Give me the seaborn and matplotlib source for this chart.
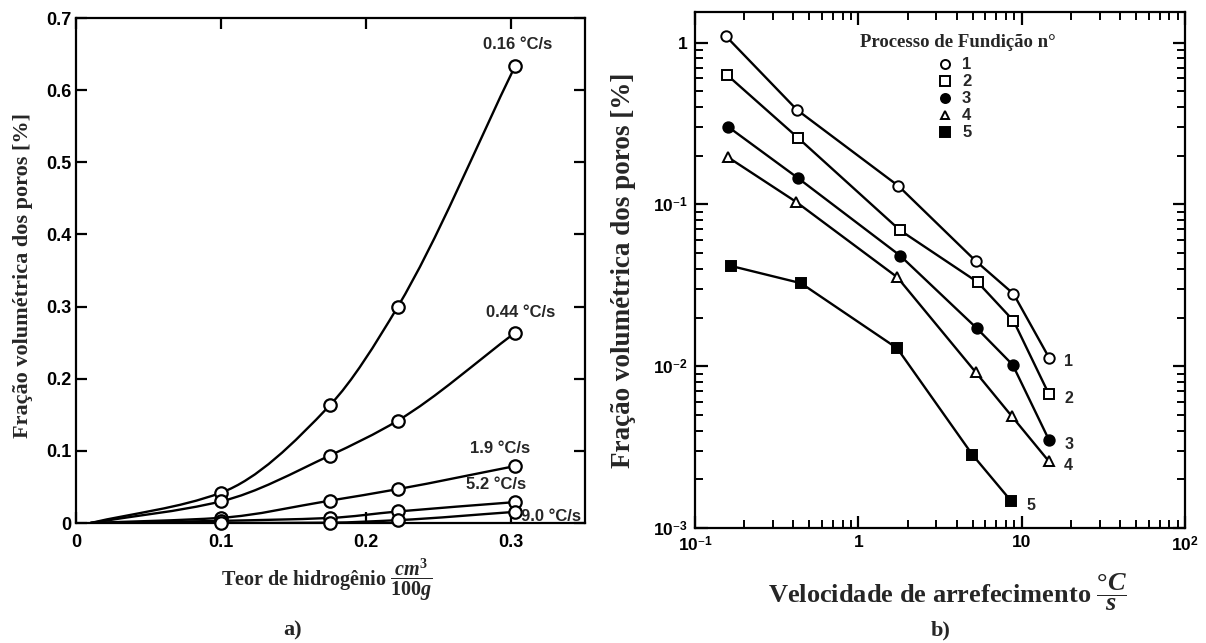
import numpy as np
import pandas as pd
import matplotlib
matplotlib.use("Agg")
import matplotlib.pyplot as plt
from matplotlib.path import Path
from matplotlib.patches import PathPatch
from matplotlib.ticker import FixedLocator, LogLocator, NullFormatter, FixedFormatter
import seaborn as sns

# ---- panel a): pore fraction vs hydrogen content -------------------------
hydrogen = [0.1, 0.175, 0.222, 0.303]
curve_onset = 0.01
rate_labels_a = ["0.16 °C/s", "0.44 °C/s", "1.9 °C/s", "5.2 °C/s", "9.0 °C/s"]
pores_016 = [0.042, 0.163, 0.300, 0.634]
pores_044 = [0.030, 0.0935, 0.142, 0.264]
pores_19 = [0.0072, 0.031, 0.047, 0.079]
pores_52 = [0.003, 0.007, 0.016, 0.029]
pores_90 = [0.0, 0.0005, 0.004, 0.0155]
y_ticks_a = [0, 0.1, 0.2, 0.3, 0.4, 0.5, 0.6, 0.7]
x_ticks_a = [0, 0.1, 0.2, 0.3]

# ---- panel b): pore fraction vs cooling rate ------------------------------
process_ids = ["1", "2", "3", "4", "5"]
rate_1 = [0.154, 0.421, 1.76, 5.22, 8.91, 14.7]
pores_1 = [1.10, 0.384, 0.130, 0.0448, 0.028, 0.0113]
rate_2 = [0.158, 0.425, 1.80, 5.37, 8.91, 14.7]
pores_2 = [0.628, 0.259, 0.0692, 0.0331, 0.0191, 0.0067]
rate_3 = [0.16, 0.425, 1.80, 5.30, 8.81, 14.7]
pores_3 = [0.301, 0.146, 0.0483, 0.0172, 0.0102, 0.0035]
rate_4 = [0.16, 0.414, 1.73, 5.22, 8.71, 14.6]
pores_4 = [0.195, 0.104, 0.0355, 0.0092, 0.0049, 0.0026]
rate_5 = [0.167, 0.445, 1.73, 4.99, 8.66]
pores_5 = [0.0416, 0.0326, 0.0129, 0.00284, 0.00146]

sns.set_theme(style="ticks")
plt.rcParams.update({
    "font.family": ["Liberation Sans", "DejaVu Sans"],
    "font.weight": "bold",
    "axes.linewidth": 1.6,
    "axes.edgecolor": "black",
    "xtick.direction": "in",
    "ytick.direction": "in",
    "xtick.color": "black",
    "ytick.color": "black",
    "mathtext.fontset": "custom",
    "mathtext.rm": "Liberation Sans:bold",
    "mathtext.it": "Liberation Serif:italic:bold",
    "mathtext.sf": "Liberation Serif:bold",
    "mathtext.bf": "Liberation Sans:bold",
    "mathtext.fallback": "stix",
})

SERIF = ["Liberation Serif", "DejaVu Serif"]

fig = plt.figure(figsize=(12.06, 6.43), dpi=100)
ax_a = fig.add_axes([0.063, 0.1866, 0.422, 0.7854])
ax_b = fig.add_axes([0.5763, 0.1788, 0.4063, 0.8025])


def smooth_curve(ax, xs, ys, **kw):
    """Monotone cubic (Fritsch-Carlson) through the points, drawn as Bezier segments."""
    x = np.asarray(xs, float)
    y = np.asarray(ys, float)
    h = np.diff(x)
    d = np.diff(y) / h
    m = np.zeros_like(x)
    m[0], m[-1] = d[0], d[-1]
    for i in range(1, len(x) - 1):
        if d[i - 1] * d[i] > 0:
            w1 = 2 * h[i] + h[i - 1]
            w2 = h[i] + 2 * h[i - 1]
            m[i] = (w1 + w2) / (w1 / d[i - 1] + w2 / d[i])
    verts = [(x[0], y[0])]
    codes = [Path.MOVETO]
    for i in range(len(x) - 1):
        verts += [(x[i] + h[i] / 3, y[i] + m[i] * h[i] / 3),
                  (x[i + 1] - h[i] / 3, y[i + 1] - m[i + 1] * h[i] / 3),
                  (x[i + 1], y[i + 1])]
        codes += [Path.CURVE4] * 3
    ax.add_patch(PathPatch(Path(verts, codes), transform=ax.transData,
                           fill=False, **kw))


# ---------------------------- panel a ------------------------------------
series_a = [pores_016, pores_044, pores_19, pores_52, pores_90]
for vals in series_a:
    smooth_curve(ax_a, [curve_onset] + hydrogen, [0.0] + vals,
                 lw=1.7, edgecolor="black", zorder=2)
rows = []
for lab, vals in zip(rate_labels_a, series_a):
    for h, v in zip(hydrogen, vals):
        rows.append({"H": h, "f": v, "rate": lab})
df_a = pd.DataFrame(rows)
sns.scatterplot(data=df_a, x="H", y="f", ax=ax_a, marker="o", s=80,
                facecolor="white", edgecolor="black", linewidth=1.6,
                zorder=4, clip_on=False, legend=False)

label_offsets = {
    "0.16 °C/s": (2, 10, "center", "bottom"),
    "0.44 °C/s": (4, 9, "center", "bottom"),
    "1.9 °C/s": (-11, 7, "center", "bottom"),
    "5.2 °C/s": (-14, 7, "center", "bottom"),
    "9.0 °C/s": (4, -3, "left", "center"),
}
for lab, vals in zip(rate_labels_a, series_a):
    dx, dy, ha, va = label_offsets[lab]
    ax_a.annotate(lab, (hydrogen[-1], vals[-1]), xytext=(dx, dy),
                  textcoords="offset points", ha=ha, va=va,
                  fontsize=12, fontweight="bold", zorder=5)

ax_a.set_xlim(0, 0.351)
ax_a.set_ylim(0, 0.7)
ax_a.xaxis.set_major_locator(FixedLocator(x_ticks_a))
ax_a.yaxis.set_major_locator(FixedLocator(y_ticks_a))
ax_a.set_xticklabels(["0", "0.1", "0.2", "0.3"])
ax_a.set_yticklabels(["0", "0.1", "0.2", "0.3", "0.4", "0.5", "0.6", "0.7"])
ax_a.tick_params(which="major", length=8, width=1.6, top=True, right=True,
                 labelsize=13)
ax_a.tick_params(axis="x", pad=8)
ax_a.tick_params(axis="y", pad=3)
for t in ax_a.get_xticklabels() + ax_a.get_yticklabels():
    t.set_fontweight("bold")
ax_a.set_xlabel("")
ax_a.set_ylabel("")

# ---------------------------- panel b ------------------------------------
styles_b = [
    ("o", "white", 7.5),
    ("s", "white", 7.5),
    ("o", "black", 7.5),
    ("^", "white", 7.0),
    ("s", "black", 7.5),
]
rates_b = [rate_1, rate_2, rate_3, rate_4, rate_5]
pores_b = [pores_1, pores_2, pores_3, pores_4, pores_5]
handles = []
for pid, xs, ys, (mk, fc, ms) in zip(process_ids, rates_b, pores_b, styles_b):
    df = pd.DataFrame({"rate": xs, "f": ys})
    sns.lineplot(data=df, x="rate", y="f", ax=ax_b, color="black", lw=1.7,
                 marker=mk, markersize=ms, markerfacecolor=fc,
                 markeredgecolor="black", markeredgewidth=1.4,
                 sort=False, estimator=None, zorder=3)
    handles.append(plt.Line2D([], [], ls="none", marker=mk, markersize=ms - 1,
                              markerfacecolor=fc, markeredgecolor="black",
                              markeredgewidth=1.4))
    ax_b.annotate(pid, (xs[-1], ys[-1]), xytext=(11, -3),
                  textcoords="offset points", ha="left", va="center",
                  fontsize=11.5, fontweight="bold")

ax_b.set(xscale="log", yscale="log")
ax_b.set_xlim(0.1, 100)
ax_b.set_ylim(1e-3, 1.545)
ax_b.xaxis.set_major_locator(FixedLocator([0.1, 1, 10, 100]))
ax_b.xaxis.set_major_formatter(FixedFormatter(
    [r"$10^{\mathsf{-}1}$", "1", "10", r"$10^{2}$"]))
ax_b.yaxis.set_major_locator(FixedLocator([1e-3, 1e-2, 1e-1, 1]))
ax_b.yaxis.set_major_formatter(FixedFormatter(
    [r"$10^{\mathsf{-}3}$", r"$10^{\mathsf{-}2}$", r"$10^{\mathsf{-}1}$", "1"]))
ax_b.xaxis.set_minor_locator(LogLocator(base=10, subs=np.arange(2, 10), numticks=20))
ax_b.yaxis.set_minor_locator(LogLocator(base=10, subs=np.arange(2, 10), numticks=20))
ax_b.xaxis.set_minor_formatter(NullFormatter())
ax_b.yaxis.set_minor_formatter(NullFormatter())
ax_b.tick_params(which="major", length=9, width=1.6, top=True, right=True,
                 labelsize=12.5, pad=5)
ax_b.tick_params(which="minor", length=6, width=1.4, top=True, right=True)
for t in ax_b.get_xticklabels() + ax_b.get_yticklabels():
    t.set_fontweight("bold")
ax_b.set_xlabel("")
ax_b.set_ylabel("")

leg = ax_b.legend(handles, process_ids, loc="upper left",
                  bbox_to_anchor=(0.494, 0.912), frameon=False,
                  labelspacing=0.12, handletextpad=0.5, handlelength=1.0,
                  borderpad=0.0, borderaxespad=0.0,
                  prop={"family": "Liberation Sans", "weight": "bold", "size": 12})
ax_b.text(0.537, 0.94, "Processo de Fundição n°", transform=ax_b.transAxes,
          ha="center", va="center", family=SERIF, fontweight="bold", fontsize=13.5)

# ---------------------------- axis titles --------------------------------
fig.text(0.019, 0.571, "Fração volumétrica dos poros [%]", rotation=90,
         ha="center", va="center", family=SERIF, fontweight="bold", fontsize=16)
fig.text(0.271, 0.098,
         r"Teor de hidrogênio $\dfrac{\mathit{cm}^{\mathsf{3}}}{\mathsf{100}\mathit{g}}$",
         ha="center", va="center", family=SERIF, fontweight="bold", fontsize=14.5)
fig.text(0.517, 0.579, "Fração volumétrica dos poros [%]", rotation=90,
         ha="center", va="center", family=SERIF, fontweight="bold", fontsize=19.5)
fig.text(0.786, 0.078,
         r"Velocidade de arrefecimento $\dfrac{\mathsf{°}\mathit{C}}{\mathit{s}}$",
         ha="center", va="center", family=SERIF, fontweight="bold", fontsize=19)
fig.text(0.243, 0.02, "a)", ha="center", va="center", family=SERIF,
         fontweight="bold", fontsize=16)
fig.text(0.78, 0.02, "b)", ha="center", va="center", family=SERIF,
         fontweight="bold", fontsize=16)

fig.savefig("out.png", dpi=100, facecolor="white")
